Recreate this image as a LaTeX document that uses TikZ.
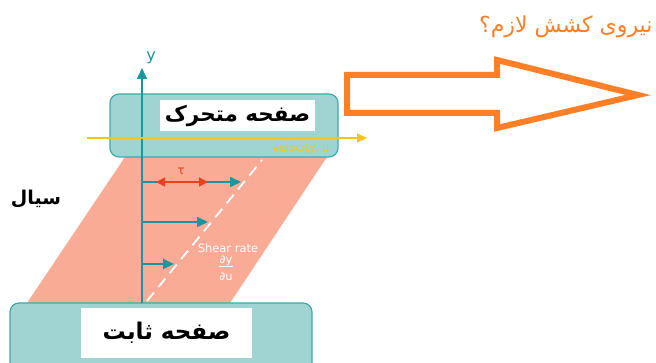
\documentclass[tikz,border=0pt]{standalone}
\usepackage{fontspec}
\newfontfamily\arabicfont[Script=Arabic]{DejaVu Sans}
\setsansfont{DejaVu Sans}
\TeXXeTstate=1
\usetikzlibrary{arrows.meta}
\definecolor{plate}{HTML}{9FD4D3}
\definecolor{plateedge}{HTML}{3FAAAA}
\definecolor{tealarrow}{HTML}{17989C}
\definecolor{salmon}{HTML}{F9AB96}
\definecolor{bigorange}{HTML}{FF7F27}
\definecolor{velyellow}{HTML}{F5C518}
\definecolor{taured}{HTML}{E8431E}
\tikzset{
  platebox/.style={draw=plateedge, line width=1.2pt, fill=plate, rounded corners=9pt, inner sep=0pt},
  labelbox/.style={fill=white, inner sep=0pt, font=\arabicfont\bfseries\fontsize{21.5}{23}\selectfont},
  velarrow/.style={draw=tealarrow, line width=1.6pt, -{Triangle[length=11pt,width=10pt]}},
  tauarrow/.style={draw=taured, line width=1.6pt, {Triangle[length=9pt,width=9pt]}-{Triangle[length=9pt,width=9pt]}},
  smallwhite/.style={text=white, inner sep=0pt, font=\sffamily\fontsize{11.5}{12}\selectfont},
}
\begin{document}
\begin{tikzpicture}[x=1pt,y=-1pt]
\useasboundingbox (0,0) rectangle (656,363);
% fluid
\fill[salmon] (27,303) -- (230,303) -- (327,157) -- (125,157) -- cycle;
\draw[white, line width=1.8pt, dash pattern=on 11pt off 7pt] (147,301) -- (262,160);
% top plate
\node[platebox, minimum width=228pt, minimum height=63pt] (top) at (224,125.5) {};
\node[labelbox, minimum width=155pt, minimum height=31pt] (toplabel) at (237.5,115.5) {\beginR صفحه متحرک\endR};
% bottom plate
\node[platebox, minimum width=302pt, minimum height=80pt] (bottom) at (161,343) {};
\node[labelbox, minimum width=171pt, minimum height=50pt, font=\arabicfont\bfseries\fontsize{23}{25}\selectfont] (bottomlabel) at (166.5,333) {\beginR صفحه ثابت\endR};
% axis
\coordinate (axisbase) at (142,303);
\coordinate (axistop) at (142,68);
\draw[velarrow] (axisbase) -- (axistop);
\node[text=tealarrow, font=\sffamily\fontsize{16}{16}\selectfont] (ylabel) at (151,58) {y};
% velocity line
\coordinate (vstart) at (87,138);
\coordinate (vend) at (367,138);
\draw[draw=velyellow, line width=1.4pt, -{Triangle[length=10pt,width=9pt]}] (vstart) -- (vend);
\node[text=velyellow, font=\sffamily\fontsize{11}{11}\selectfont, anchor=east] (vlabel) at (333,148) {velocity, u};
% velocity arrows
\coordinate (a1) at (142,182); \coordinate (b1) at (241,182);
\coordinate (a2) at (142,222); \coordinate (b2) at (208,222);
\coordinate (a3) at (142,264); \coordinate (b3) at (174,264);
\draw[velarrow] (a1) -- (b1);
\draw[velarrow] (a2) -- (b2);
\draw[velarrow] (a3) -- (b3);
\coordinate (t1) at (156,182); \coordinate (t2) at (208,182);
\draw[tauarrow] (t1) -- (t2);
\node[text=taured, font=\sffamily\fontsize{12}{12}\selectfont] (taulabel) at (181,171) {τ};
% shear rate
\node[smallwhite] (shear) at (228,248) {Shear rate};
\node[smallwhite] (fracnum) at (226,261) {∂y};
\node[smallwhite] (fracden) at (226,277) {∂u};
\draw[white, line width=0.8pt] (fracnum.south west) -- (fracnum.south east);
% fluid label
\node[font=\arabicfont\bfseries\fontsize{19}{20}\selectfont] (fluid) at (36,199) {\beginR سیال\endR};
% big arrow
\draw[bigorange, line width=6pt, line join=miter, miter limit=10]
  (347,75) -- (497,75) -- (497,60) -- (638,95) -- (497,128) -- (497,113) -- (347,113) -- cycle;
% title
\node[text=bigorange, anchor=east, font=\arabicfont\fontsize{22}{24}\selectfont] (title) at (656,27) {\beginR نیروی کشش لازم؟\endR};
\end{tikzpicture}
\end{document}
